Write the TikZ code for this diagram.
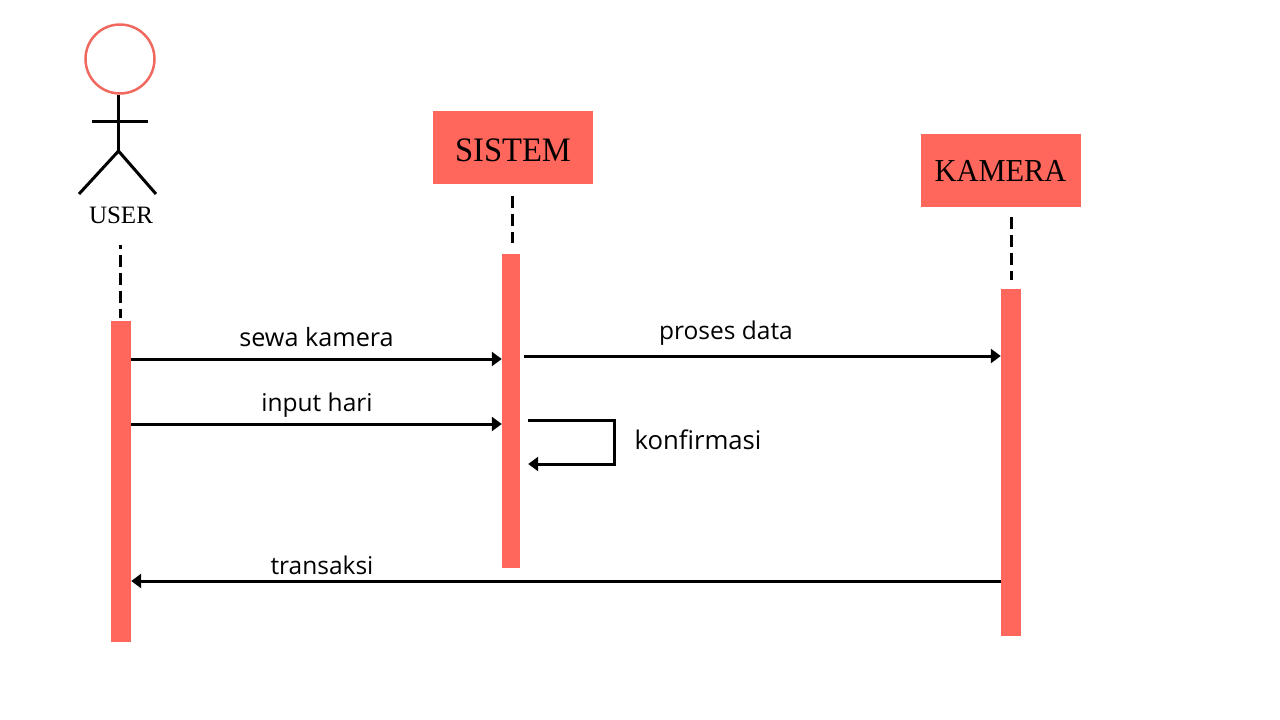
\documentclass[tikz,border=0pt]{standalone}
\usepackage{fontspec}
\setmainfont{Liberation Serif}
\newfontfamily\headfont[FakeStretch=0.95]{Liberation Serif}
\newfontfamily\labelfont{Open Sans}
\usetikzlibrary{arrows.meta}
\definecolor{salmon}{HTML}{FF665C}
\definecolor{headline}{HTML}{F0695F}

\tikzset{
  bar/.style={fill=salmon,inner sep=0pt,minimum width=20pt},
  head/.style={fill=salmon,inner sep=0pt,minimum width=160pt,minimum height=73pt},
  limb/.style={line width=3pt},
  life/.style={line width=3pt,dash pattern=on 12pt off 6pt},
  msg/.style={line width=3pt,-{Triangle[length=10pt,width=14pt]}},
  msglabel/.style={font=\labelfont\fontsize{#1}{28}\selectfont,inner sep=0pt},
  msglabel/.default=24.5
}

\begin{document}
\begin{tikzpicture}[x=1pt,y=-1pt]
  \useasboundingbox (0,0) rectangle (1280,720);

  % user
  \node at (120,59) [circle,draw=headline,line width=2.5pt,minimum size=69pt,inner sep=0pt] (userhead) {};
  \coordinate (hip) at (118.5,151);
  \coordinate (armL) at (92,121);
  \coordinate (armR) at (148,121);
  \coordinate (footL) at (79,194);
  \coordinate (footR) at (156,194);
  \draw[limb] ([xshift=-1.5pt]userhead.south) -- (hip);
  \draw[limb] (armL) -- (armR);
  \draw[limb] (footL) -- (hip) -- (footR);
  \node at (121,215) [font=\fontsize{25}{28}\selectfont,inner sep=0pt] (user) {USER};

  \node at (513,147.5) [head,font=\headfont\fontsize{34.3}{40}\selectfont] (sistem) {\raisebox{-14pt}[0pt][0pt]{SISTEM}};
  \node at (1000.5,170.5) [head,font=\headfont\fontsize{32}{40}\selectfont] (kamera) {KAMERA};

  \node at (121,481.5) [bar,minimum height=321pt] (userbar) {};
  \node at (511,411) [bar,minimum width=18pt,minimum height=314pt] (sistembar) {};
  \node at (1011,462.5) [bar,minimum height=347pt] (kamerabar) {};

  % lifelines
  \draw[life,dash phase=8pt] ([xshift=-1pt,yshift=76pt]userbar.north) -- ([xshift=-1pt,yshift=3pt]userbar.north);
  \draw[life] ([xshift=1pt,yshift=58pt]sistembar.north) -- ([xshift=1pt,yshift=11pt]sistembar.north);
  \draw[life] ([yshift=72pt]kamerabar.north) -- ([yshift=9pt]kamerabar.north);

  % messages
  \draw[msg] ([yshift=122.5pt]userbar.east) -- ([yshift=52pt]sistembar.west);
  \draw[msg] ([yshift=57.5pt]userbar.east) -- ([yshift=-13pt]sistembar.west);
  \draw[msg] ([xshift=4pt,yshift=55pt]sistembar.east) -- ([yshift=106.5pt]kamerabar.west);
  \draw[msg] ([xshift=8pt,yshift=-9pt]sistembar.east) -- ++(86,0) -- ++(0,44) -- ([xshift=8pt,yshift=-53pt]sistembar.east);
  \draw[msg] ([yshift=-118.5pt]kamerabar.west) -- ([yshift=-99.5pt]userbar.east);

  \node at (316.5,337) [msglabel=25.2] (sewa) {sewa kamera};
  \node at (317,405) [msglabel] (input) {input hari};
  \node at (726,333.5) [msglabel] (proses) {proses data};
  \node at (698,440) [msglabel=25.7] (konfirmasi) {konfirmasi};
  \node at (322,565) [msglabel] (transaksi) {transaksi};
\end{tikzpicture}
\end{document}
